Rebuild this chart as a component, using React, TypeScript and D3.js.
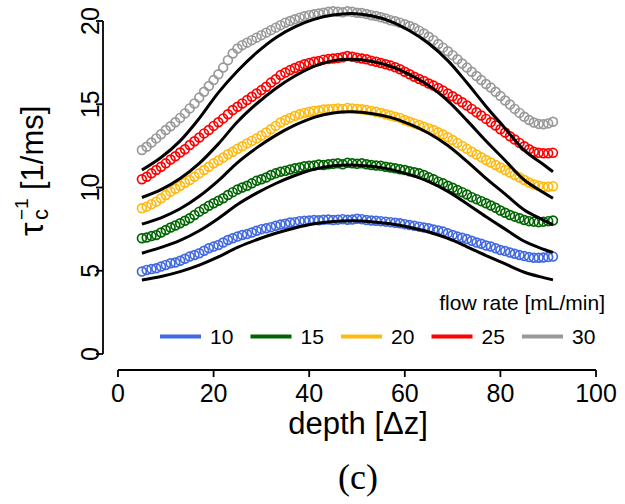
import React from "react";
import * as d3 from "d3";

const depth = [5,6,7,8,9,10,11,12,13,14,15,16,17,18,19,20,21,22,23,24,25,26,27,28,29,30,31,32,33,34,35,36,37,38,39,40,41,42,43,44,45,46,47,48,49,50,51,52,53,54,55,56,57,58,59,60,61,62,63,64,65,66,67,68,69,70,71,72,73,74,75,76,77,78,79,80,81,82,83,84,85,86,87,88,89,90,91];

const data10 = [4.95,5.05,5.10,5.15,5.25,5.35,5.45,5.50,5.60,5.72,5.85,5.95,6.05,6.20,6.35,6.45,6.55,6.70,6.85,6.95,7.05,7.15,7.20,7.30,7.40,7.50,7.55,7.62,7.70,7.78,7.82,7.90,7.92,7.98,8.00,8.02,8.05,8.03,8.06,8.08,8.05,8.07,8.10,8.06,8.08,8.12,8.10,8.05,8.02,8.00,7.98,7.95,7.92,7.88,7.85,7.80,7.75,7.70,7.65,7.60,7.55,7.48,7.42,7.35,7.25,7.15,7.05,6.98,6.90,6.80,6.70,6.62,6.52,6.45,6.35,6.25,6.18,6.10,6.02,5.95,5.88,5.82,5.78,5.78,5.80,5.82,5.85];
const data15 = [6.95,7.00,7.08,7.15,7.30,7.45,7.60,7.72,7.85,8.00,8.15,8.35,8.55,8.72,8.90,9.05,9.20,9.35,9.55,9.72,9.88,10.00,10.10,10.25,10.40,10.50,10.60,10.75,10.85,10.95,11.00,11.08,11.15,11.20,11.28,11.30,11.32,11.38,11.35,11.40,11.42,11.45,11.40,11.48,11.45,11.42,11.45,11.40,11.35,11.32,11.30,11.25,11.20,11.15,11.10,11.05,10.98,10.92,10.85,10.75,10.62,10.50,10.35,10.25,10.10,9.98,9.85,9.72,9.58,9.42,9.30,9.18,9.05,8.92,8.78,8.62,8.48,8.35,8.25,8.15,8.05,7.98,7.95,7.92,7.95,7.98,8.02];
const data20 = [8.75,8.85,9.00,9.15,9.35,9.55,9.75,9.92,10.10,10.28,10.45,10.65,10.85,11.05,11.25,11.45,11.62,11.80,12.00,12.15,12.32,12.48,12.65,12.80,12.95,13.12,13.30,13.50,13.70,13.90,14.05,14.18,14.30,14.40,14.48,14.55,14.60,14.62,14.68,14.70,14.72,14.75,14.72,14.78,14.75,14.72,14.70,14.65,14.60,14.55,14.48,14.40,14.32,14.25,14.18,14.05,13.95,13.85,13.75,13.65,13.55,13.45,13.32,13.18,13.02,12.85,12.68,12.50,12.32,12.15,11.98,11.82,11.65,11.50,11.35,11.20,11.05,10.90,10.75,10.60,10.45,10.30,10.18,10.10,10.05,10.05,10.08];
const data25 = [10.50,10.65,10.85,11.05,11.25,11.45,11.68,11.88,12.10,12.30,12.55,12.78,13.00,13.25,13.45,13.70,13.92,14.15,14.40,14.65,14.85,15.05,15.25,15.45,15.65,15.85,16.05,16.30,16.50,16.75,16.90,17.05,17.18,17.30,17.40,17.48,17.55,17.60,17.68,17.72,17.75,17.78,17.82,17.90,17.85,17.80,17.75,17.70,17.62,17.55,17.48,17.40,17.32,17.22,17.10,16.95,16.80,16.65,16.52,16.40,16.25,16.12,15.98,15.82,15.65,15.48,15.30,15.12,14.92,14.72,14.52,14.32,14.12,13.92,13.72,13.50,13.30,13.08,12.88,12.68,12.48,12.30,12.15,12.08,12.05,12.05,12.08];
const data30 = [12.25,12.45,12.70,12.95,13.20,13.45,13.68,13.92,14.18,14.45,14.75,15.05,15.40,15.75,16.10,16.45,16.80,17.20,17.65,18.05,18.35,18.55,18.70,18.85,19.00,19.15,19.30,19.45,19.60,19.75,19.90,20.00,20.10,20.20,20.28,20.35,20.40,20.45,20.50,20.55,20.58,20.55,20.52,20.58,20.55,20.50,20.48,20.42,20.35,20.30,20.22,20.15,20.05,19.98,19.90,19.80,19.70,19.58,19.42,19.25,19.05,18.85,18.62,18.40,18.18,17.95,17.70,17.45,17.20,16.95,16.70,16.45,16.22,16.00,15.75,15.50,15.22,14.98,14.72,14.48,14.25,14.05,13.90,13.82,13.80,13.85,13.95];

const fitDepth = [5,9,13,17,21,25,29,33,37,41,45,49,53,57,61,65,69,73,77,81,85,89,91];
const fit10 = [4.45,4.66,4.95,5.34,5.83,6.40,6.86,7.25,7.57,7.82,7.96,8.00,7.95,7.82,7.61,7.33,6.94,6.44,5.91,5.41,4.91,4.59,4.45];
const fit15 = [6.05,6.40,6.82,7.40,8.14,8.98,9.66,10.24,10.72,11.09,11.30,11.35,11.27,11.09,10.77,10.35,9.77,9.03,8.24,7.50,6.77,6.29,6.10];
const fit20 = [7.80,8.18,8.72,9.47,10.41,11.50,12.38,13.13,13.74,14.21,14.48,14.55,14.45,14.21,13.80,13.26,12.52,11.57,10.55,9.60,8.65,8.04,7.75];
const fit25 = [9.40,9.87,10.54,11.45,12.62,13.95,15.03,15.95,16.70,17.28,17.62,17.70,17.58,17.28,16.78,16.12,15.20,14.03,12.79,11.62,10.45,9.70,9.35];
const fit30 = [11.05,11.80,12.80,14.15,15.70,17.00,18.10,19.00,19.65,20.10,20.36,20.45,20.31,19.98,19.41,18.65,17.62,16.29,14.87,13.55,12.23,11.38,10.95];

const flowRates = ["10", "15", "20", "25", "30"];
const colors = ["#4169E1", "#006400", "#FFB90F", "#FF0000", "#999999"];
const seriesData = [data10, data15, data20, data25, data30];
const seriesFit = [fit10, fit15, fit20, fit25, fit30];

const xTicks = [0, 20, 40, 60, 80, 100];
const yTicks = [0, 5, 10, 15, 20];

const W = 625, H = 504;
const SANS = "'Liberation Sans', Arial, sans-serif";

export default function App() {
  const x = d3.scaleLinear().domain([0, 100]).range([118, 596]);
  const y = d3.scaleLinear().domain([0, 20]).range([354, 21]);
  const line = d3
    .line<number>()
    .x((_, i) => x(fitDepth[i]))
    .y((d) => y(d))
    .curve(d3.curveCatmullRom.alpha(0.5));

  const legendX = d3.scalePoint<string>().domain(flowRates).range([160, 522]);

  return (
    <svg width={W} height={H} style={{ position: "absolute", left: 0, top: 0, background: "#fff" }} fontFamily={SANS}>
      <rect width={W} height={H} fill="#fff" />
      {seriesData.map((s, si) => (
        <g key={"d" + si} fill="none" stroke={colors[si]} strokeWidth={1.7}>
          {s.map((v, i) => (
            <circle key={i} cx={x(depth[i])} cy={y(v)} r={4.4} />
          ))}
        </g>
      ))}
      {seriesFit.map((f, si) => (
        <path key={"f" + si} d={line(f) || ""} fill="none" stroke="#000" strokeWidth={3} />
      ))}
      <line x1={x(0)} x2={x(100)} y1={370} y2={370} stroke="#000" strokeWidth={1.8} />
      {xTicks.map((t) => (
        <g key={t}>
          <line x1={x(t)} x2={x(t)} y1={370} y2={377} stroke="#000" strokeWidth={1.8} />
          <text x={x(t)} y={402} fontSize={25} textAnchor="middle">{t}</text>
        </g>
      ))}
      <text x={358} y={434} fontSize={31} textAnchor="middle">depth [Δz]</text>
      <line x1={103} x2={103} y1={y(0)} y2={y(20)} stroke="#000" strokeWidth={1.8} />
      {yTicks.map((t) => (
        <g key={t}>
          <line x1={96} x2={103} y1={y(t)} y2={y(t)} stroke="#000" strokeWidth={1.8} />
          <text transform={`translate(99,${y(t)}) rotate(-90)`} fontSize={25} textAnchor="middle">{t}</text>
        </g>
      ))}
      <g transform="translate(43,236) rotate(-90)">
        <text x={0} y={0} fontSize={34}>τ</text>
        <text x={16} y={5} fontSize={22}>c</text>
        <text x={16} y={-15} fontSize={19}>−1</text>
        <text x={46} y={0} fontSize={31}>[1/ms]</text>
      </g>
      <text x={605} y={310} fontSize={21} textAnchor="end">flow rate [mL/min]</text>
      {flowRates.map((fr, i) => (
        <g key={fr}>
          <line x1={legendX(fr)!} x2={legendX(fr)! + 41} y1={336.5} y2={336.5} stroke={colors[i]} strokeWidth={4} />
          <text x={legendX(fr)! + 50} y={344} fontSize={21}>{fr}</text>
        </g>
      ))}
      <text x={358} y={489} fontSize={36} textAnchor="middle" fontFamily="'Liberation Serif', 'Times New Roman', serif">(c)</text>
    </svg>
  );
}
